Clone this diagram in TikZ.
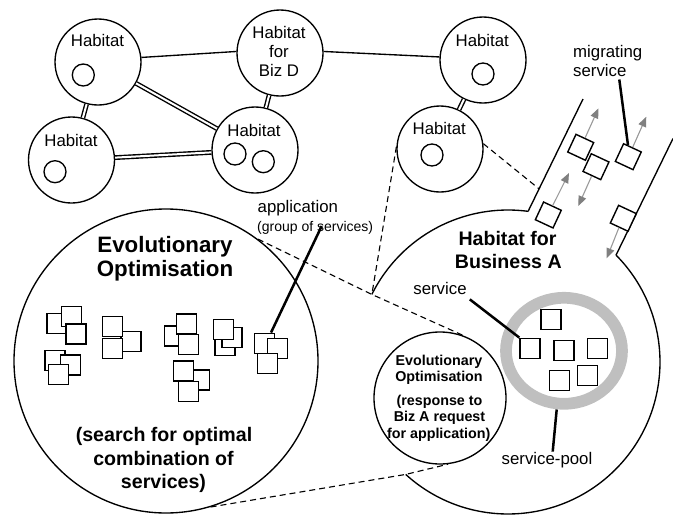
\documentclass[tikz,border=0pt]{standalone}
\usepackage{fontspec}
\setmainfont{Liberation Sans}
\usetikzlibrary{arrows.meta,shapes.geometric,calc}
\newcommand\fnorm{\fontsize{16.8}{20}\selectfont}
\newcommand\fsml{\fontsize{14}{17}\selectfont}
\newcommand\fttl{\fontsize{22.3}{26}\selectfont\bfseries}
\newcommand\fmid{\fontsize{19.6}{23}\selectfont\bfseries}
\newcommand\fsb{\fontsize{14.3}{17}\selectfont\bfseries}
\begin{document}
\begin{tikzpicture}[x=1pt,y=1pt,
  hab/.style={circle,draw,line width=1.35pt,minimum size=86pt,inner sep=0pt},
  cell/.style={circle,draw,line width=1.35pt,minimum size=22pt,inner sep=0pt},
  bigcirc/.style={circle,draw,line width=1.35pt,inner sep=0pt},
  sq/.style={draw,fill=white,line width=1.4pt,minimum size=20pt,inner sep=0pt},
  msq/.style={sq,minimum size=19.5pt,rotate=-25},
  txt/.style={inner sep=0pt,anchor=base,font=\fnorm},
  txtw/.style={inner sep=0pt,anchor=base west,font=\fnorm},
  dbl/.style={double,double distance=2pt,line width=1.4pt},
  plain/.style={line width=1.35pt},
  lead/.style={line width=2.5pt},
  dsh/.style={line width=1.1pt,dash pattern=on 6pt off 4pt},
  mig/.style={draw=gray!80,line width=1.1pt,-{Triangle[length=10pt,width=8pt,color=gray,fill=gray]}},
  ring/.style={ellipse,draw=black!25,line width=11.7pt,minimum width=116pt,minimum height=106pt,inner sep=0pt}]
\useasboundingbox (0,0) rectangle (673,-517);

% ---------- habitat network ----------
\node[hab] (A1) at (98,-62) {};
\node[hab] (A2) at (71.5,-160) {};
\node[hab] (BD) at (280,-53) {};
\node[hab] (B) at (255,-150) {};
\node[hab] (RT) at (483,-60) {};
\node[hab] (RL) at (440,-149) {};

\node[txt] (A1t) at (97.5,-46.5) {Habitat};
\node[txt] (A2t) at (71,-146.7) {Habitat};
\node[txt] (Bt) at (254,-136.7) {Habitat};
\node[txt] (RTt) at (482.3,-46.7) {Habitat};
\node[txt] (RLt) at (439.3,-134) {Habitat};
\node[txt] (BDt1) at (279,-38.5) {Habitat};
\node[txt] (BDt2) at (279,-57.5) {for};
\node[txt] (BDt3) at (279,-76.5) {Biz D};

\node[cell] (A1c) at (83.3,-75) {};
\node[cell] (A2c) at (55,-171.7) {};
\node[cell] (Bc1) at (235,-154) {};
\node[cell] (Bc2) at (263.3,-161.7) {};
\node[cell] (RTc) at (483,-74) {};
\node[cell] (RLc) at (432,-155) {};

\draw[plain] (A1.6) -- (BD.178);
\draw[plain] (BD.2) -- (RT.176);
\draw[dbl] (A1) -- (A2);
\draw[dbl] (A1) -- (B);
\draw[dbl] (A2) -- (B);
\draw[dbl] (BD) -- (B);
\draw[dbl] (RT) -- (RL);

% ---------- big circles ----------
\node[bigcirc,minimum size=304pt] (EO) at (166,-361) {};
\node[bigcirc,minimum size=132pt] (eo) at (440,-398) {};

\coordinate (HBc) at (508,-362);
\path (HBc) ++(153.6:152) coordinate (V);
\path (HBc) ++(82.4:152) coordinate (CL);
\path (HBc) ++(44.7:152) coordinate (CR);
\path (HBc) ++(-132.3:152) coordinate (W);
\draw[plain] (V) arc[start angle=153.6,end angle=82.4,radius=152];
\draw[plain] (CR) arc[start angle=44.7,end angle=-132.3,radius=152];

% channel
\coordinate (CLt) at (583,-99);
\coordinate (CRt) at (673,-138.5);
\draw[plain] (CL) -- (CLt);
\draw[plain] (CR) -- (CRt);
\path (CL) -- (CLt) coordinate[pos=0.2] (CLm);

% dashed zoom lines
\draw[dsh] (EO.53.7) -- (V) -- (eo.69);
\draw[dsh] (EO.-73.3) -- (W) -- (eo.-83.4);
\draw[dsh] (RL.177) -- (V);
\draw[dsh] (RL.7.5) -- (CLm);

% migrating services
\node[msq] (s1) at (548.3,-215) {};
\node[msq] (s2) at (580.7,-147.3) {};
\node[msq] (s3) at (596,-166.7) {};
\node[msq] (s4) at (628.3,-156.7) {};
\node[msq] (s5) at (623.3,-218.3) {};
\coordinate (t1) at (569,-173);
\coordinate (t2) at (598.5,-108.3);
\coordinate (t3) at (578.3,-206);
\coordinate (t4) at (646.3,-116.7);
\coordinate (t5) at (606.7,-258.3);
\draw[mig] (s1.north) -- (t1);
\draw[mig] (s2.north) -- (t2);
\draw[mig] (s3.south) -- (t3);
\draw[mig] (s4.north) -- (t4);
\draw[mig] (s5.south) -- (t5);

\node[txtw] (mig1) at (573,-57.3) {migrating};
\node[txtw] (mig2) at (573,-76.7) {service};
\coordinate (migx) at (619.3,-79.5);
\draw[lead] (migx) -- ($(s4.north west)!0.25!(s4.north east)$);

% ---------- left circle: evolutionary optimisation ----------
\node[txt,font=\fttl] (EOt1) at (165,-252.7) {Evolutionary};
\node[txt,font=\fttl] (EOt2) at (165,-276.2) {Optimisation};
\node[txt,font=\fmid] (EOb1) at (164,-441.5) {(search for optimal};
\node[txt,font=\fmid] (EOb2) at (163.5,-465) {combination of};
\node[txt,font=\fmid] (EOb3) at (163.5,-488.5) {services)};

% cluster 1
\node[sq] (q1a) at (57,-323.3) {};
\node[sq] (q1b) at (71.7,-316.7) {};
\node[sq] (q1c) at (76,-334) {};
% cluster 2
\node[sq] (q2a) at (55,-360.7) {};
\node[sq] (q2b) at (70.7,-365) {};
\node[sq] (q2c) at (58.3,-374.3) {};
% cluster 3
\node[sq] (q3b) at (131,-341.7) {};
\node[sq] (q3a) at (112.7,-326.7) {};
\node[sq] (q3c) at (112.7,-348.3) {};
% cluster 4
\node[sq] (q4a) at (174.3,-336) {};
\node[sq] (q4b) at (186.7,-324) {};
\node[sq] (q4c) at (188.3,-344.3) {};
% cluster 5
\node[sq] (q5b) at (199.3,-380) {};
\node[sq] (q5a) at (183.3,-371) {};
\node[sq] (q5c) at (188.3,-391.7) {};
% cluster 6
\node[sq] (q6c) at (225,-345.5) {};
\node[sq] (q6b) at (232,-337.7) {};
\node[sq] (q6a) at (223.3,-329.7) {};
% cluster 7
\node[sq] (q7a) at (264.3,-343.3) {};
\node[sq] (q7b) at (277.7,-348.3) {};
\node[sq] (q7c) at (267.7,-363.3) {};

\node[txtw] (app1) at (257.5,-212.5) {application};
\node[txtw,font=\fsml] (app2) at (257,-231) {(group of services)};
\coordinate (appx) at (321.7,-226);
\draw[lead] ([xshift=-4pt]q7a.north east) -- (appx);

% ---------- right circle: habitat for business A ----------
\node[txt,font=\fmid] (HBt1) at (507.5,-245) {Habitat for};
\node[txt,font=\fmid] (HBt2) at (508.3,-268.3) {Business A};

\node[ring] (pool) at (564,-350.8) {};
\node[sq] (p1) at (551,-319.3) {};
\node[sq] (p2) at (530,-348.3) {};
\node[sq] (p3) at (564,-350.7) {};
\node[sq] (p4) at (597.3,-348.3) {};
\node[sq] (p5) at (559.3,-380.7) {};
\node[sq] (p6) at (587.7,-375.7) {};

\node[txt] (svc) at (440,-294) {service};
\draw[lead] ([xshift=3pt,yshift=-5pt]svc.south east) -- (p2.north west);

\node[txt] (spl) at (547,-464) {service-pool};
\coordinate (plp) at (556.7,-409.5);
\draw[lead] (plp) -- ([xshift=5.7pt]spl.north);

% small circle text
\node[txt,font=\fsb] (eot1) at (439,-365) {Evolutionary};
\node[txt,font=\fsb] (eot2) at (439,-381.5) {Optimisation};
\node[txt,font=\fsb] (eot3) at (439.5,-405) {(response to};
\node[txt,font=\fsb] (eot4) at (439.5,-421.5) {Biz A request};
\node[txt,font=\fsb] (eot5) at (438.7,-438) {for application)};
\end{tikzpicture}
\end{document}
